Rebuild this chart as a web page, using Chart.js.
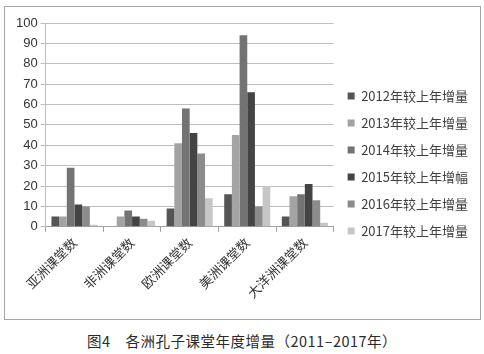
<!DOCTYPE html>
<html>
<head>
<meta charset="utf-8">
<script src="https://cdn.jsdelivr.net/npm/chart.js@4"></script>
<style>
    html, body { margin: 0; padding: 0; background: #fff; }
    #frame {
        position: absolute;
        left: 4px; top: 6px;
        width: 475px; height: 312px;
        border: 1.5px solid #a6a6a6;
    }
    #caption {
        position: absolute;
        left: 0; top: 330px; width: 484px;
        text-align: center;
        font-family: "Noto Sans CJK SC", sans-serif;
        font-size: 14.5px;
        letter-spacing: 0.5px;
        color: #2a2a2a;
    }
</style>
</head>
<body>
<div id="frame"><canvas id="chart" width="475" height="312"></canvas></div>
<div id="caption">图4　各洲孔子课堂年度增量（2011–2017年）</div>
<script>
    // Categories and series
    const continents = ['亚洲课堂数', '非洲课堂数', '欧洲课堂数', '美洲课堂数', '大洋洲课堂数'];
    const seriesNames = ['2012年较上年增量', '2013年较上年增量', '2014年较上年增量',
        '2015年较上年增幅', '2016年较上年增量', '2017年较上年增量'];
    const inc2012 = [5, 0, 9, 16, 5];
    const inc2013 = [5, 5, 41, 45, 15];
    const inc2014 = [29, 8, 58, 94, 16];
    const inc2015 = [11, 5, 46, 66, 21];
    const inc2016 = [10, 4, 36, 10, 13];
    const inc2017 = [1, 3, 14, 20, 2];
    const seriesColors = ['#555555', '#a3a3a3', '#737373', '#444444', '#8c8c8c', '#c6c6c6'];

    const seriesData = [inc2012, inc2013, inc2014, inc2015, inc2016, inc2017];
    const cjkFont = '"Noto Sans CJK SC", sans-serif';

    function drawChart() {
        new Chart(document.getElementById('chart'), {
            type: 'bar',
            data: {
                labels: continents,
                datasets: seriesData.map((values, i) => ({
                    label: seriesNames[i],
                    data: values,
                    backgroundColor: seriesColors[i],
                    borderWidth: 0,
                    categoryPercentage: 0.8,
                    barPercentage: 1.0
                }))
            },
            options: {
                responsive: false,
                animation: false,
                layout: {
                    padding: { left: 8, top: 16, right: 2, bottom: 15 }
                },
                plugins: {
                    legend: {
                        position: 'right',
                        align: 'center',
                        maxWidth: 150,
                        labels: {
                            boxWidth: 7,
                            boxHeight: 7,
                            padding: 14,
                            color: '#404040',
                            font: { family: cjkFont, size: 13 }
                        }
                    },
                    tooltip: { enabled: false }
                },
                scales: {
                    x: {
                        grid: {
                            drawOnChartArea: false,
                            drawTicks: true,
                            tickLength: 5,
                            color: '#a0a0a0'
                        },
                        border: { color: '#a0a0a0' },
                        ticks: {
                            minRotation: 45,
                            maxRotation: 45,
                            color: '#333',
                            font: { family: cjkFont, size: 13 }
                        }
                    },
                    y: {
                        min: 0,
                        max: 100,
                        ticks: {
                            stepSize: 10,
                            color: '#333',
                            font: { family: '"Liberation Sans", sans-serif', size: 13 }
                        },
                        grid: {
                            color: '#bdbdbd',
                            tickLength: 5
                        },
                        border: { color: '#bdbdbd' }
                    }
                }
            }
        });
    }

    // wait for the CJK font so the legend gets measured right
    Promise.all([
        document.fonts.load('13px "Noto Sans CJK SC"', '年较上增量幅2012'),
        document.fonts.load('13px "Liberation Sans"', '0123456789')
    ]).then(drawChart, drawChart);
</script>
</body>
</html>
